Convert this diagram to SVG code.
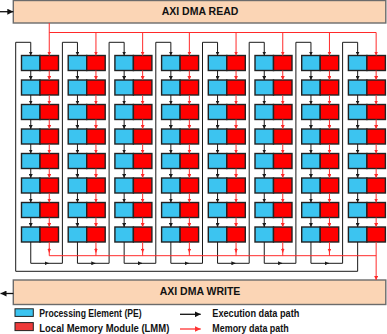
<svg xmlns="http://www.w3.org/2000/svg" width="387" height="334" viewBox="0 0 387 334">
<defs>
<style>
.pe{fill:#3CC4F0;stroke:#222;stroke-width:1.4}
.lmm{fill:#FF0000;stroke:#222;stroke-width:1.4}
.dma{fill:#FBD5B5;stroke:#6b6b6b;stroke-width:1.4}
.ex{fill:none;stroke:#1a1a1a;stroke-width:1;marker-end:url(#ab)}
.exn{fill:none;stroke:#1a1a1a;stroke-width:1}
.me{fill:none;stroke:#ff2a2a;stroke-width:1;marker-end:url(#ar)}
.men{fill:none;stroke:#ff2a2a;stroke-width:1}
.big{fill:none;stroke:#111;stroke-width:1.3;marker-end:url(#abig)}
.bigr{fill:none;stroke:#ff3333;stroke-width:1.3;marker-end:url(#arbig)}
.t{font-family:"Liberation Sans",Arial,sans-serif;font-weight:bold;fill:#111}
</style>
<marker id="ab" viewBox="0 0 4 4" refX="4" refY="2" markerWidth="4" markerHeight="4" markerUnits="userSpaceOnUse" orient="auto"><path d="M0,0L4,2L0,4z" fill="#1a1a1a"/></marker>
<marker id="ar" viewBox="0 0 4 4" refX="4" refY="2" markerWidth="4" markerHeight="4" markerUnits="userSpaceOnUse" orient="auto"><path d="M0,0L4,2L0,4z" fill="#ff2a2a"/></marker>
<marker id="abig" viewBox="0 0 6 6" refX="6" refY="3" markerWidth="6" markerHeight="6" markerUnits="userSpaceOnUse" orient="auto"><path d="M0,0L6,3L0,6z" fill="#111"/></marker>
<marker id="arbig" viewBox="0 0 6 6" refX="6" refY="3" markerWidth="6" markerHeight="6" markerUnits="userSpaceOnUse" orient="auto"><path d="M0,0L6,3L0,6z" fill="#ff3333"/></marker>
</defs>
<rect width="387" height="334" fill="#fff"/>

<g id="dma-read"><rect class="dma" x="13.3" y="0.5" width="372.5" height="22.5"/><text class="t" x="200" y="15.2" font-size="10.5" text-anchor="middle">AXI DMA READ</text></g>
<g id="dma-write"><rect class="dma" x="13.3" y="280" width="372.5" height="24.5"/><text class="t" x="200" y="295.4" font-size="10.5" text-anchor="middle">AXI DMA WRITE</text></g>

<g id="pe-nodes">
<g id="pe-1-1"><rect class="pe" x="21.5" y="55.5" width="18.5" height="15"/></g>
<g id="pe-2-1"><rect class="pe" x="21.5" y="80" width="18.5" height="15"/></g>
<g id="pe-3-1"><rect class="pe" x="21.5" y="104.5" width="18.5" height="15"/></g>
<g id="pe-4-1"><rect class="pe" x="21.5" y="129" width="18.5" height="15"/></g>
<g id="pe-5-1"><rect class="pe" x="21.5" y="153.5" width="18.5" height="15"/></g>
<g id="pe-6-1"><rect class="pe" x="21.5" y="178" width="18.5" height="15"/></g>
<g id="pe-7-1"><rect class="pe" x="21.5" y="202.5" width="18.5" height="15"/></g>
<g id="pe-8-1"><rect class="pe" x="21.5" y="227" width="18.5" height="15"/></g>
<g id="pe-1-2"><rect class="pe" x="68.2" y="55.5" width="18.5" height="15"/></g>
<g id="pe-2-2"><rect class="pe" x="68.2" y="80" width="18.5" height="15"/></g>
<g id="pe-3-2"><rect class="pe" x="68.2" y="104.5" width="18.5" height="15"/></g>
<g id="pe-4-2"><rect class="pe" x="68.2" y="129" width="18.5" height="15"/></g>
<g id="pe-5-2"><rect class="pe" x="68.2" y="153.5" width="18.5" height="15"/></g>
<g id="pe-6-2"><rect class="pe" x="68.2" y="178" width="18.5" height="15"/></g>
<g id="pe-7-2"><rect class="pe" x="68.2" y="202.5" width="18.5" height="15"/></g>
<g id="pe-8-2"><rect class="pe" x="68.2" y="227" width="18.5" height="15"/></g>
<g id="pe-1-3"><rect class="pe" x="114.9" y="55.5" width="18.5" height="15"/></g>
<g id="pe-2-3"><rect class="pe" x="114.9" y="80" width="18.5" height="15"/></g>
<g id="pe-3-3"><rect class="pe" x="114.9" y="104.5" width="18.5" height="15"/></g>
<g id="pe-4-3"><rect class="pe" x="114.9" y="129" width="18.5" height="15"/></g>
<g id="pe-5-3"><rect class="pe" x="114.9" y="153.5" width="18.5" height="15"/></g>
<g id="pe-6-3"><rect class="pe" x="114.9" y="178" width="18.5" height="15"/></g>
<g id="pe-7-3"><rect class="pe" x="114.9" y="202.5" width="18.5" height="15"/></g>
<g id="pe-8-3"><rect class="pe" x="114.9" y="227" width="18.5" height="15"/></g>
<g id="pe-1-4"><rect class="pe" x="161.6" y="55.5" width="18.5" height="15"/></g>
<g id="pe-2-4"><rect class="pe" x="161.6" y="80" width="18.5" height="15"/></g>
<g id="pe-3-4"><rect class="pe" x="161.6" y="104.5" width="18.5" height="15"/></g>
<g id="pe-4-4"><rect class="pe" x="161.6" y="129" width="18.5" height="15"/></g>
<g id="pe-5-4"><rect class="pe" x="161.6" y="153.5" width="18.5" height="15"/></g>
<g id="pe-6-4"><rect class="pe" x="161.6" y="178" width="18.5" height="15"/></g>
<g id="pe-7-4"><rect class="pe" x="161.6" y="202.5" width="18.5" height="15"/></g>
<g id="pe-8-4"><rect class="pe" x="161.6" y="227" width="18.5" height="15"/></g>
<g id="pe-1-5"><rect class="pe" x="208.3" y="55.5" width="18.5" height="15"/></g>
<g id="pe-2-5"><rect class="pe" x="208.3" y="80" width="18.5" height="15"/></g>
<g id="pe-3-5"><rect class="pe" x="208.3" y="104.5" width="18.5" height="15"/></g>
<g id="pe-4-5"><rect class="pe" x="208.3" y="129" width="18.5" height="15"/></g>
<g id="pe-5-5"><rect class="pe" x="208.3" y="153.5" width="18.5" height="15"/></g>
<g id="pe-6-5"><rect class="pe" x="208.3" y="178" width="18.5" height="15"/></g>
<g id="pe-7-5"><rect class="pe" x="208.3" y="202.5" width="18.5" height="15"/></g>
<g id="pe-8-5"><rect class="pe" x="208.3" y="227" width="18.5" height="15"/></g>
<g id="pe-1-6"><rect class="pe" x="255" y="55.5" width="18.5" height="15"/></g>
<g id="pe-2-6"><rect class="pe" x="255" y="80" width="18.5" height="15"/></g>
<g id="pe-3-6"><rect class="pe" x="255" y="104.5" width="18.5" height="15"/></g>
<g id="pe-4-6"><rect class="pe" x="255" y="129" width="18.5" height="15"/></g>
<g id="pe-5-6"><rect class="pe" x="255" y="153.5" width="18.5" height="15"/></g>
<g id="pe-6-6"><rect class="pe" x="255" y="178" width="18.5" height="15"/></g>
<g id="pe-7-6"><rect class="pe" x="255" y="202.5" width="18.5" height="15"/></g>
<g id="pe-8-6"><rect class="pe" x="255" y="227" width="18.5" height="15"/></g>
<g id="pe-1-7"><rect class="pe" x="301.7" y="55.5" width="18.5" height="15"/></g>
<g id="pe-2-7"><rect class="pe" x="301.7" y="80" width="18.5" height="15"/></g>
<g id="pe-3-7"><rect class="pe" x="301.7" y="104.5" width="18.5" height="15"/></g>
<g id="pe-4-7"><rect class="pe" x="301.7" y="129" width="18.5" height="15"/></g>
<g id="pe-5-7"><rect class="pe" x="301.7" y="153.5" width="18.5" height="15"/></g>
<g id="pe-6-7"><rect class="pe" x="301.7" y="178" width="18.5" height="15"/></g>
<g id="pe-7-7"><rect class="pe" x="301.7" y="202.5" width="18.5" height="15"/></g>
<g id="pe-8-7"><rect class="pe" x="301.7" y="227" width="18.5" height="15"/></g>
<g id="pe-1-8"><rect class="pe" x="348.4" y="55.5" width="18.5" height="15"/></g>
<g id="pe-2-8"><rect class="pe" x="348.4" y="80" width="18.5" height="15"/></g>
<g id="pe-3-8"><rect class="pe" x="348.4" y="104.5" width="18.5" height="15"/></g>
<g id="pe-4-8"><rect class="pe" x="348.4" y="129" width="18.5" height="15"/></g>
<g id="pe-5-8"><rect class="pe" x="348.4" y="153.5" width="18.5" height="15"/></g>
<g id="pe-6-8"><rect class="pe" x="348.4" y="178" width="18.5" height="15"/></g>
<g id="pe-7-8"><rect class="pe" x="348.4" y="202.5" width="18.5" height="15"/></g>
<g id="pe-8-8"><rect class="pe" x="348.4" y="227" width="18.5" height="15"/></g>
</g>

<g id="lmm-nodes">
<g id="lmm-1-1"><rect class="lmm" x="40" y="55.5" width="18.5" height="15"/></g>
<g id="lmm-2-1"><rect class="lmm" x="40" y="80" width="18.5" height="15"/></g>
<g id="lmm-3-1"><rect class="lmm" x="40" y="104.5" width="18.5" height="15"/></g>
<g id="lmm-4-1"><rect class="lmm" x="40" y="129" width="18.5" height="15"/></g>
<g id="lmm-5-1"><rect class="lmm" x="40" y="153.5" width="18.5" height="15"/></g>
<g id="lmm-6-1"><rect class="lmm" x="40" y="178" width="18.5" height="15"/></g>
<g id="lmm-7-1"><rect class="lmm" x="40" y="202.5" width="18.5" height="15"/></g>
<g id="lmm-8-1"><rect class="lmm" x="40" y="227" width="18.5" height="15"/></g>
<g id="lmm-1-2"><rect class="lmm" x="86.7" y="55.5" width="18.5" height="15"/></g>
<g id="lmm-2-2"><rect class="lmm" x="86.7" y="80" width="18.5" height="15"/></g>
<g id="lmm-3-2"><rect class="lmm" x="86.7" y="104.5" width="18.5" height="15"/></g>
<g id="lmm-4-2"><rect class="lmm" x="86.7" y="129" width="18.5" height="15"/></g>
<g id="lmm-5-2"><rect class="lmm" x="86.7" y="153.5" width="18.5" height="15"/></g>
<g id="lmm-6-2"><rect class="lmm" x="86.7" y="178" width="18.5" height="15"/></g>
<g id="lmm-7-2"><rect class="lmm" x="86.7" y="202.5" width="18.5" height="15"/></g>
<g id="lmm-8-2"><rect class="lmm" x="86.7" y="227" width="18.5" height="15"/></g>
<g id="lmm-1-3"><rect class="lmm" x="133.4" y="55.5" width="18.5" height="15"/></g>
<g id="lmm-2-3"><rect class="lmm" x="133.4" y="80" width="18.5" height="15"/></g>
<g id="lmm-3-3"><rect class="lmm" x="133.4" y="104.5" width="18.5" height="15"/></g>
<g id="lmm-4-3"><rect class="lmm" x="133.4" y="129" width="18.5" height="15"/></g>
<g id="lmm-5-3"><rect class="lmm" x="133.4" y="153.5" width="18.5" height="15"/></g>
<g id="lmm-6-3"><rect class="lmm" x="133.4" y="178" width="18.5" height="15"/></g>
<g id="lmm-7-3"><rect class="lmm" x="133.4" y="202.5" width="18.5" height="15"/></g>
<g id="lmm-8-3"><rect class="lmm" x="133.4" y="227" width="18.5" height="15"/></g>
<g id="lmm-1-4"><rect class="lmm" x="180.1" y="55.5" width="18.5" height="15"/></g>
<g id="lmm-2-4"><rect class="lmm" x="180.1" y="80" width="18.5" height="15"/></g>
<g id="lmm-3-4"><rect class="lmm" x="180.1" y="104.5" width="18.5" height="15"/></g>
<g id="lmm-4-4"><rect class="lmm" x="180.1" y="129" width="18.5" height="15"/></g>
<g id="lmm-5-4"><rect class="lmm" x="180.1" y="153.5" width="18.5" height="15"/></g>
<g id="lmm-6-4"><rect class="lmm" x="180.1" y="178" width="18.5" height="15"/></g>
<g id="lmm-7-4"><rect class="lmm" x="180.1" y="202.5" width="18.5" height="15"/></g>
<g id="lmm-8-4"><rect class="lmm" x="180.1" y="227" width="18.5" height="15"/></g>
<g id="lmm-1-5"><rect class="lmm" x="226.8" y="55.5" width="18.5" height="15"/></g>
<g id="lmm-2-5"><rect class="lmm" x="226.8" y="80" width="18.5" height="15"/></g>
<g id="lmm-3-5"><rect class="lmm" x="226.8" y="104.5" width="18.5" height="15"/></g>
<g id="lmm-4-5"><rect class="lmm" x="226.8" y="129" width="18.5" height="15"/></g>
<g id="lmm-5-5"><rect class="lmm" x="226.8" y="153.5" width="18.5" height="15"/></g>
<g id="lmm-6-5"><rect class="lmm" x="226.8" y="178" width="18.5" height="15"/></g>
<g id="lmm-7-5"><rect class="lmm" x="226.8" y="202.5" width="18.5" height="15"/></g>
<g id="lmm-8-5"><rect class="lmm" x="226.8" y="227" width="18.5" height="15"/></g>
<g id="lmm-1-6"><rect class="lmm" x="273.5" y="55.5" width="18.5" height="15"/></g>
<g id="lmm-2-6"><rect class="lmm" x="273.5" y="80" width="18.5" height="15"/></g>
<g id="lmm-3-6"><rect class="lmm" x="273.5" y="104.5" width="18.5" height="15"/></g>
<g id="lmm-4-6"><rect class="lmm" x="273.5" y="129" width="18.5" height="15"/></g>
<g id="lmm-5-6"><rect class="lmm" x="273.5" y="153.5" width="18.5" height="15"/></g>
<g id="lmm-6-6"><rect class="lmm" x="273.5" y="178" width="18.5" height="15"/></g>
<g id="lmm-7-6"><rect class="lmm" x="273.5" y="202.5" width="18.5" height="15"/></g>
<g id="lmm-8-6"><rect class="lmm" x="273.5" y="227" width="18.5" height="15"/></g>
<g id="lmm-1-7"><rect class="lmm" x="320.2" y="55.5" width="18.5" height="15"/></g>
<g id="lmm-2-7"><rect class="lmm" x="320.2" y="80" width="18.5" height="15"/></g>
<g id="lmm-3-7"><rect class="lmm" x="320.2" y="104.5" width="18.5" height="15"/></g>
<g id="lmm-4-7"><rect class="lmm" x="320.2" y="129" width="18.5" height="15"/></g>
<g id="lmm-5-7"><rect class="lmm" x="320.2" y="153.5" width="18.5" height="15"/></g>
<g id="lmm-6-7"><rect class="lmm" x="320.2" y="178" width="18.5" height="15"/></g>
<g id="lmm-7-7"><rect class="lmm" x="320.2" y="202.5" width="18.5" height="15"/></g>
<g id="lmm-8-7"><rect class="lmm" x="320.2" y="227" width="18.5" height="15"/></g>
<g id="lmm-1-8"><rect class="lmm" x="366.9" y="55.5" width="18.5" height="15"/></g>
<g id="lmm-2-8"><rect class="lmm" x="366.9" y="80" width="18.5" height="15"/></g>
<g id="lmm-3-8"><rect class="lmm" x="366.9" y="104.5" width="18.5" height="15"/></g>
<g id="lmm-4-8"><rect class="lmm" x="366.9" y="129" width="18.5" height="15"/></g>
<g id="lmm-5-8"><rect class="lmm" x="366.9" y="153.5" width="18.5" height="15"/></g>
<g id="lmm-6-8"><rect class="lmm" x="366.9" y="178" width="18.5" height="15"/></g>
<g id="lmm-7-8"><rect class="lmm" x="366.9" y="202.5" width="18.5" height="15"/></g>
<g id="lmm-8-8"><rect class="lmm" x="366.9" y="227" width="18.5" height="15"/></g>
</g>

<g id="connectors">
<g id="exec-paths">
<path class="big" d="M0,11.7H13.3"/>
<path class="big" d="M13.3,293.5H0.5"/>
<path class="ex" d="M357.65,242V271.3H15.7V42.3H30.75V55.5"/>
<path class="ex" d="M30.75,242V263.3H62.4V42.3H77.45V55.5"/>
<path class="ex" d="M77.45,242V263.3H109.1V42.3H124.15V55.5"/>
<path class="ex" d="M124.15,242V263.3H155.8V42.3H170.85V55.5"/>
<path class="ex" d="M170.85,242V263.3H202.5V42.3H217.55V55.5"/>
<path class="ex" d="M217.55,242V263.3H249.2V42.3H264.25V55.5"/>
<path class="ex" d="M264.25,242V263.3H295.9V42.3H310.95V55.5"/>
<path class="ex" d="M310.95,242V263.3H342.6V42.3H357.65V55.5"/>
<path class="ex" d="M45,263.3H48.6"/>
<path class="ex" d="M91.7,263.3H95.3"/>
<path class="ex" d="M138.4,263.3H142"/>
<path class="ex" d="M185.1,263.3H188.7"/>
<path class="ex" d="M231.8,263.3H235.4"/>
<path class="ex" d="M278.5,263.3H282.1"/>
<path class="ex" d="M325.2,263.3H328.8"/>
<path class="ex" d="M30.75,70.5V80"/><path class="ex" d="M30.75,95V104.5"/><path class="ex" d="M30.75,119.5V129"/><path class="ex" d="M30.75,144V153.5"/><path class="ex" d="M30.75,168.5V178"/><path class="ex" d="M30.75,193V202.5"/><path class="ex" d="M30.75,217.5V227"/>
<path class="ex" d="M77.45,70.5V80"/><path class="ex" d="M77.45,95V104.5"/><path class="ex" d="M77.45,119.5V129"/><path class="ex" d="M77.45,144V153.5"/><path class="ex" d="M77.45,168.5V178"/><path class="ex" d="M77.45,193V202.5"/><path class="ex" d="M77.45,217.5V227"/>
<path class="ex" d="M124.15,70.5V80"/><path class="ex" d="M124.15,95V104.5"/><path class="ex" d="M124.15,119.5V129"/><path class="ex" d="M124.15,144V153.5"/><path class="ex" d="M124.15,168.5V178"/><path class="ex" d="M124.15,193V202.5"/><path class="ex" d="M124.15,217.5V227"/>
<path class="ex" d="M170.85,70.5V80"/><path class="ex" d="M170.85,95V104.5"/><path class="ex" d="M170.85,119.5V129"/><path class="ex" d="M170.85,144V153.5"/><path class="ex" d="M170.85,168.5V178"/><path class="ex" d="M170.85,193V202.5"/><path class="ex" d="M170.85,217.5V227"/>
<path class="ex" d="M217.55,70.5V80"/><path class="ex" d="M217.55,95V104.5"/><path class="ex" d="M217.55,119.5V129"/><path class="ex" d="M217.55,144V153.5"/><path class="ex" d="M217.55,168.5V178"/><path class="ex" d="M217.55,193V202.5"/><path class="ex" d="M217.55,217.5V227"/>
<path class="ex" d="M264.25,70.5V80"/><path class="ex" d="M264.25,95V104.5"/><path class="ex" d="M264.25,119.5V129"/><path class="ex" d="M264.25,144V153.5"/><path class="ex" d="M264.25,168.5V178"/><path class="ex" d="M264.25,193V202.5"/><path class="ex" d="M264.25,217.5V227"/>
<path class="ex" d="M310.95,70.5V80"/><path class="ex" d="M310.95,95V104.5"/><path class="ex" d="M310.95,119.5V129"/><path class="ex" d="M310.95,144V153.5"/><path class="ex" d="M310.95,168.5V178"/><path class="ex" d="M310.95,193V202.5"/><path class="ex" d="M310.95,217.5V227"/>
<path class="ex" d="M357.65,70.5V80"/><path class="ex" d="M357.65,95V104.5"/><path class="ex" d="M357.65,119.5V129"/><path class="ex" d="M357.65,144V153.5"/><path class="ex" d="M357.65,168.5V178"/><path class="ex" d="M357.65,193V202.5"/><path class="ex" d="M357.65,217.5V227"/>
</g>
<g id="memory-paths">
<path class="men" d="M49.25,32.5H376.15"/>
<path class="me" d="M49.25,23V55.5"/>
<path class="me" d="M95.95,32.5V55.5"/>
<path class="me" d="M142.65,32.5V55.5"/>
<path class="me" d="M189.35,32.5V55.5"/>
<path class="me" d="M236.05,32.5V55.5"/>
<path class="me" d="M282.75,32.5V55.5"/>
<path class="me" d="M329.45,32.5V55.5"/>
<path class="me" d="M376.15,32.5V55.5"/>
<path class="men" d="M49.25,255.7H376.15"/>
<path class="men" d="M49.25,242V255.7"/><path class="me" d="M49.25,248V252.5"/>
<path class="men" d="M95.95,242V255.7"/><path class="me" d="M95.95,248V252.5"/>
<path class="men" d="M142.65,242V255.7"/><path class="me" d="M142.65,248V252.5"/>
<path class="men" d="M189.35,242V255.7"/><path class="me" d="M189.35,248V252.5"/>
<path class="men" d="M236.05,242V255.7"/><path class="me" d="M236.05,248V252.5"/>
<path class="men" d="M282.75,242V255.7"/><path class="me" d="M282.75,248V252.5"/>
<path class="men" d="M329.45,242V255.7"/><path class="me" d="M329.45,248V252.5"/>
<path class="me" d="M376.15,242V280"/>
<path class="me" d="M49.25,70.5V80"/><path class="me" d="M49.25,95V104.5"/><path class="me" d="M49.25,119.5V129"/><path class="me" d="M49.25,144V153.5"/><path class="me" d="M49.25,168.5V178"/><path class="me" d="M49.25,193V202.5"/><path class="me" d="M49.25,217.5V227"/>
<path class="me" d="M95.95,70.5V80"/><path class="me" d="M95.95,95V104.5"/><path class="me" d="M95.95,119.5V129"/><path class="me" d="M95.95,144V153.5"/><path class="me" d="M95.95,168.5V178"/><path class="me" d="M95.95,193V202.5"/><path class="me" d="M95.95,217.5V227"/>
<path class="me" d="M142.65,70.5V80"/><path class="me" d="M142.65,95V104.5"/><path class="me" d="M142.65,119.5V129"/><path class="me" d="M142.65,144V153.5"/><path class="me" d="M142.65,168.5V178"/><path class="me" d="M142.65,193V202.5"/><path class="me" d="M142.65,217.5V227"/>
<path class="me" d="M189.35,70.5V80"/><path class="me" d="M189.35,95V104.5"/><path class="me" d="M189.35,119.5V129"/><path class="me" d="M189.35,144V153.5"/><path class="me" d="M189.35,168.5V178"/><path class="me" d="M189.35,193V202.5"/><path class="me" d="M189.35,217.5V227"/>
<path class="me" d="M236.05,70.5V80"/><path class="me" d="M236.05,95V104.5"/><path class="me" d="M236.05,119.5V129"/><path class="me" d="M236.05,144V153.5"/><path class="me" d="M236.05,168.5V178"/><path class="me" d="M236.05,193V202.5"/><path class="me" d="M236.05,217.5V227"/>
<path class="me" d="M282.75,70.5V80"/><path class="me" d="M282.75,95V104.5"/><path class="me" d="M282.75,119.5V129"/><path class="me" d="M282.75,144V153.5"/><path class="me" d="M282.75,168.5V178"/><path class="me" d="M282.75,193V202.5"/><path class="me" d="M282.75,217.5V227"/>
<path class="me" d="M329.45,70.5V80"/><path class="me" d="M329.45,95V104.5"/><path class="me" d="M329.45,119.5V129"/><path class="me" d="M329.45,144V153.5"/><path class="me" d="M329.45,168.5V178"/><path class="me" d="M329.45,193V202.5"/><path class="me" d="M329.45,217.5V227"/>
<path class="me" d="M376.15,70.5V80"/><path class="me" d="M376.15,95V104.5"/><path class="me" d="M376.15,119.5V129"/><path class="me" d="M376.15,144V153.5"/><path class="me" d="M376.15,168.5V178"/><path class="me" d="M376.15,193V202.5"/><path class="me" d="M376.15,217.5V227"/>
</g>
</g>

<g id="legend">
<rect x="15" y="308.8" width="18.3" height="7.6" fill="#3CC4F0" stroke="#222" stroke-width="1"/>
<rect x="15" y="322.6" width="18.3" height="8" fill="#EE3A3A" stroke="#222" stroke-width="1"/>
<text class="t" x="39.3" y="316.8" font-size="10" textLength="102.4" lengthAdjust="spacingAndGlyphs">Processing Element (PE)</text>
<text class="t" x="39.3" y="331.5" font-size="10" textLength="130" lengthAdjust="spacingAndGlyphs">Local Memory Module (LMM)</text>
<path class="big" d="M180,314.3H200.7"/>
<path class="bigr" d="M180,329H200.7"/>
<text class="t" x="212.3" y="316.8" font-size="10" textLength="87" lengthAdjust="spacingAndGlyphs">Execution data path</text>
<text class="t" x="212.3" y="331.5" font-size="10" textLength="76.4" lengthAdjust="spacingAndGlyphs">Memory data path</text>
</g>
</svg>
